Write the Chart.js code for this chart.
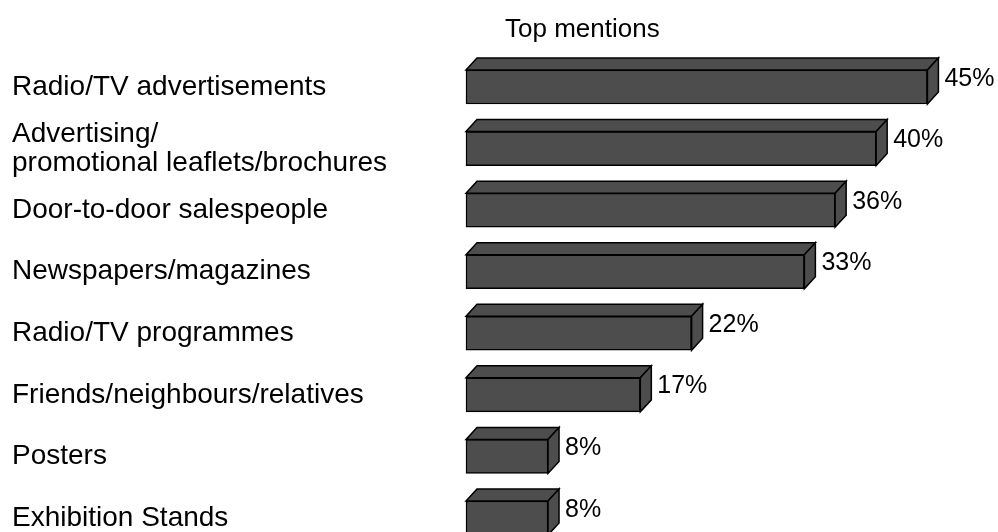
<!DOCTYPE html>
<html>
<head>
<meta charset="utf-8">
<title>Top mentions</title>
<script src="https://cdn.jsdelivr.net/npm/chart.js@4.4.1/dist/chart.umd.min.js"></script>
<style>
  html, body { margin: 0; padding: 0; background: #fff; }
  #wrap { width: 998px; height: 532px; position: relative; }
</style>
</head>
<body>
<div id="wrap"><canvas id="myChart"></canvas></div>
<script>
// sources mentioned, top to bottom
const categories = [
  'Radio/TV advertisements',
  ['Advertising/', 'promotional leaflets/brochures'],
  'Door-to-door salespeople',
  'Newspapers/magazines',
  'Radio/TV programmes',
  'Friends/neighbours/relatives',
  'Posters',
  'Exhibition Stands'
];
const mentions = [45, 40, 36, 33, 22, 17, 8, 8];
const chartTitle = 'Top mentions';

const FONT = '"Liberation Sans", Arial, Helvetica, sans-serif';
const barFill = '#4d4d4d';
const depthX = 11;
const depthY = 12;

// top and right faces of each bar plus the % labels
const boxPlugin = {
  id: 'box3d',
  afterDatasetsDraw(chart) {
    const ctx = chart.ctx;
    const meta = chart.getDatasetMeta(0);
    ctx.save();
    ctx.lineJoin = 'miter';
    ctx.lineWidth = 1.5;
    ctx.strokeStyle = '#000';
    ctx.fillStyle = barFill;
    meta.data.forEach((bar, i) => {
      const half = bar.height / 2;
      const top = bar.y - half;
      const bottom = bar.y + half;
      const left = bar.base;
      const right = bar.x;

      ctx.beginPath();
      ctx.moveTo(left, top);
      ctx.lineTo(left + depthX, top - depthY);
      ctx.lineTo(right + depthX, top - depthY);
      ctx.lineTo(right, top);
      ctx.closePath();
      ctx.fill();
      ctx.stroke();

      ctx.beginPath();
      ctx.moveTo(right, top);
      ctx.lineTo(right + depthX, top - depthY);
      ctx.lineTo(right + depthX, bottom - depthY);
      ctx.lineTo(right, bottom);
      ctx.closePath();
      ctx.fill();
      ctx.stroke();

      ctx.fillStyle = '#000';
      ctx.font = '25px ' + FONT;
      ctx.textAlign = 'left';
      ctx.textBaseline = 'alphabetic';
      ctx.fillText(mentions[i] + '%', right + depthX + 6, bar.y - 1.5);
      ctx.fillStyle = barFill;
    });
    ctx.restore();
  },
  afterDraw(chart) {
    const ctx = chart.ctx;
    ctx.save();
    ctx.fillStyle = '#000';
    ctx.font = '26px ' + FONT;
    ctx.textAlign = 'left';
    ctx.textBaseline = 'alphabetic';
    ctx.fillText(chartTitle, 505, 37);
    ctx.restore();
  }
};

const data = {
  labels: categories,
  datasets: [{
    label: chartTitle,
    data: mentions,
    backgroundColor: barFill,
    borderColor: '#000',
    borderWidth: 1.5,
    borderSkipped: false,
    barThickness: 34,
    clip: false
  }]
};

const config = {
  type: 'bar',
  data,
  options: {
    indexAxis: 'y',
    responsive: true,
    maintainAspectRatio: false,
    animation: false,
    layout: {
      padding: { left: 12, right: 7, top: 87, bottom: 14 }
    },
    plugins: {
      legend: { display: false },
      tooltip: { enabled: false },
      title: { display: false }
    },
    scales: {
      x: {
        display: false,
        min: 0,
        max: 51.2
      },
      y: {
        offset: false,
        grid: { display: false },
        border: { display: false },
        ticks: {
          autoSkip: false,
          crossAlign: 'far',
          color: '#000',
          padding: 0,
          font: { family: FONT, size: 28, lineHeight: 1.05 }
        },
        afterFit(scale) {
          scale.width = 454;
          scale.paddingTop = 0;
          scale.paddingBottom = 0;
        }
      }
    }
  },
  plugins: [boxPlugin]
};

const myChart = new Chart(document.getElementById('myChart'), config);
</script>
</body>
</html>
